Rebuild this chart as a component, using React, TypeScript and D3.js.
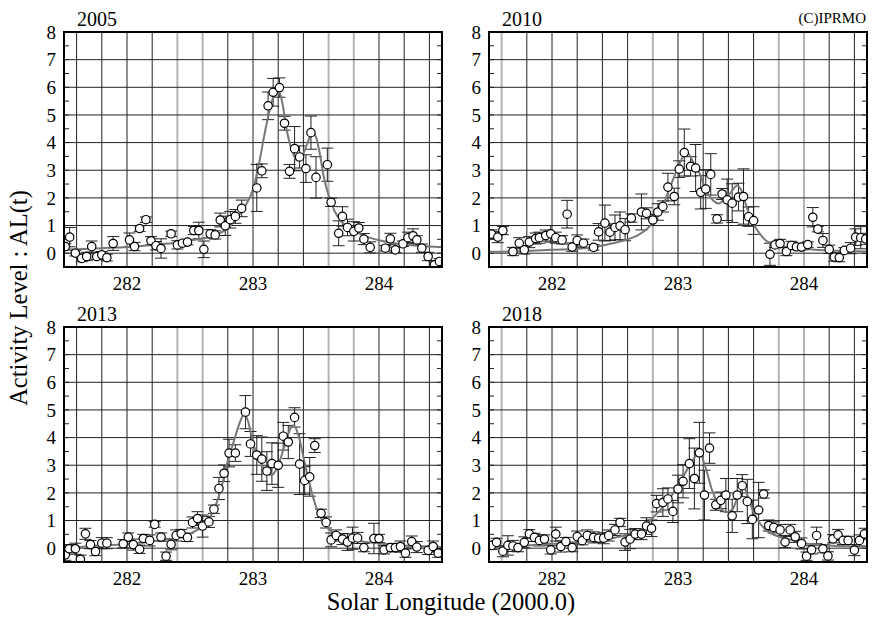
import React from "react";
import * as d3 from "d3";

// ---------- data ----------
const xTicks = [282, 283, 284];
const yTicks = [0, 1, 2, 3, 4, 5, 6, 7, 8];
const years = ["2005", "2010", "2013", "2018"];

const x2005 = [281.51,281.545,281.59,281.64,281.68,281.72,281.76,281.80,281.84,281.89,282.02,282.06,282.10,282.15,282.19,282.23,282.27,282.35,282.40,282.44,282.48,282.53,282.57,282.61,282.66,282.70,282.74,282.78,282.82,282.86,282.91,283.03,283.07,283.12,283.16,283.21,283.25,283.33,283.29,283.37,283.42,283.46,283.50,283.59,283.62,283.68,283.71,283.75,283.80,283.84,283.88,283.93,284.05,284.09,284.13,284.19,284.23,284.27,284.30,284.34,284.39,284.44,284.48];
const y2005 = [0.24,0.58,0,-0.19,-0.12,0.24,-0.12,-0.06,-0.16,0.35,0.48,0.24,0.89,1.21,0.45,0.27,0.17,0.70,0.30,0.36,0.40,0.82,0.82,0.14,0.70,0.66,1.20,0.99,1.21,1.33,1.62,2.36,2.98,5.33,5.82,5.99,4.70,3.78,2.96,3.48,3.06,4.36,2.74,3.20,1.84,0.72,1.33,0.93,0.79,0.91,0.51,0.21,0.18,0.52,0.12,0.34,0.56,0.63,0.48,0.18,-0.12,-0.42,-0.30];
const e2005 = [0.1,0.35,0.1,0.12,0.15,0.2,0.1,0.12,0.12,0.25,0.25,0.15,0.1,0.1,0.15,0.15,0.35,0.1,0.15,0.1,0.1,0.15,0.3,0.3,0.15,0.15,0.25,0.35,0.3,0.25,0.3,0.85,0.25,0.5,0.5,0.35,0.25,0.8,0.25,0.4,0.5,0.6,0.75,0.6,0.15,0.45,0.35,0.3,0.35,0.2,0.2,0.2,0.1,0.2,0.1,0.1,0.2,0.25,0.15,0.15,0.15,0.1,0.1];
const mx2005 = [281.5,281.8,282.0,282.2,282.4,282.6,282.7,282.8,282.9,282.95,283.0,283.05,283.1,283.15,283.2,283.23,283.27,283.31,283.35,283.39,283.43,283.47,283.5,283.53,283.56,283.6,283.65,283.7,283.8,283.9,284.0,284.1,284.2,284.3,284.4,284.5];
const my2005 = [0.12,0.18,0.22,0.3,0.39,0.54,0.66,0.9,1.45,1.8,2.3,3.3,4.5,5.5,5.9,5.5,4.4,3.7,3.35,3.5,3.95,4.35,4.2,3.6,2.8,2.1,1.5,1.15,0.82,0.6,0.47,0.38,0.31,0.27,0.24,0.22];
const grey2005 = [282.4, 282.6, 283.6, 283.8];

const x2010 = [281.52,281.57,281.61,281.69,281.74,281.78,281.82,281.87,281.90,281.95,281.99,282.03,282.08,282.12,282.16,282.20,282.25,282.33,282.37,282.42,282.46,282.50,282.54,282.58,282.63,282.71,282.75,282.80,282.84,282.88,282.92,282.97,283.01,283.05,283.10,283.14,283.18,283.22,283.26,283.31,283.35,283.39,283.43,283.48,283.52,283.56,283.60,283.73,283.77,283.81,283.86,283.90,283.94,283.98,284.03,284.07,284.11,284.15,284.20,284.24,284.28,284.32,284.37,284.41,284.45,284.49];
const y2010 = [0.69,0.58,0.82,0.06,0.36,0.12,0.40,0.53,0.56,0.64,0.70,0.56,0.48,1.41,0.22,0.46,0.36,0.21,0.77,1.09,0.76,0.93,0.99,0.85,1.27,1.49,1.44,1.20,1.49,1.69,2.39,2.05,3.04,3.64,3.14,3.08,2.20,2.32,2.85,1.24,2.14,1.93,1.81,2.03,2.05,1.32,1.18,-0.04,0.30,0.35,0.06,0.28,0.23,0.22,0.31,1.30,0.87,0.46,0.14,-0.14,-0.16,0.10,0.18,0.58,0.56,0.52];
const e2010 = [0.15,0.2,0.15,0.15,0.2,0.15,0.2,0.2,0.2,0.2,0.3,0.2,0.15,0.5,0.15,0.2,0.15,0.1,0.3,0.65,0.3,0.45,0.5,0.4,0.15,0.65,0.2,0.2,0.3,0.2,0.5,0.3,0.3,0.85,0.35,0.85,0.6,0.7,0.75,0.15,0.2,0.75,0.7,0.5,1.0,0.35,0.5,0.4,0.1,0.15,0.15,0.15,0.1,0.1,0.1,0.35,0.1,0.25,0.15,0.15,0.15,0.1,0.2,0.3,0.4,0.2];
const mx2010 = [281.5,281.8,282.0,282.3,282.5,282.6,282.7,282.8,282.87,282.93,283.0,283.05,283.08,283.12,283.17,283.22,283.27,283.32,283.37,283.42,283.47,283.5,283.55,283.6,283.65,283.7,283.8,283.9,284.0,284.2,284.5];
const my2010 = [0.05,0.08,0.12,0.2,0.38,0.5,0.7,1.1,1.6,2.3,3.1,3.55,3.6,3.3,2.9,2.3,1.95,1.8,1.95,2.2,2.45,2.3,1.6,1.05,0.7,0.45,0.27,0.2,0.15,0.1,0.06];
const grey2010 = [281.6, 282.8, 283.8, 284.0];

const x2013 = [281.51,281.54,281.59,281.63,281.67,281.71,281.75,281.80,281.84,281.97,282.01,282.05,282.10,282.13,282.18,282.22,282.27,282.31,282.35,282.39,282.43,282.48,282.52,282.56,282.60,282.65,282.69,282.73,282.77,282.81,282.86,282.94,282.98,283.03,283.07,283.11,283.15,283.20,283.24,283.28,283.33,283.37,283.41,283.45,283.49,283.54,283.58,283.62,283.66,283.71,283.75,283.79,283.83,283.88,283.96,284.00,284.04,284.09,284.13,284.17,284.21,284.26,284.30,284.39,284.43,284.47];
const y2013 = [-0.24,-0.02,-0.02,-0.40,0.52,0.13,-0.12,0.18,0.18,0.16,0.40,0.13,-0.04,0.35,0.28,0.86,0.40,-0.29,0.14,0.46,0.53,0.39,0.93,1.07,0.80,0.95,1.41,2.16,2.71,3.44,3.44,4.92,3.77,3.37,3.22,2.79,3.06,3.00,4.05,3.84,4.73,3.04,2.45,2.58,3.71,1.26,0.93,0.30,0.46,0.33,0.22,0.36,0.37,0.02,0.35,0.35,-0.06,0.02,0.02,0.06,-0.18,0.24,0.04,-0.08,0.06,-0.18];
const e2013 = [0.2,0.15,0.2,0.15,0.2,0.15,0.15,0.2,0.2,0.15,0.15,0.2,0.15,0.15,0.2,0.1,0.15,0.15,0.2,0.2,0.15,0.15,0.2,0.25,0.4,0.2,0.15,0.4,0.3,0.5,0.3,0.6,0.45,0.7,0.8,0.7,0.75,0.8,0.5,0.6,0.35,1.1,0.5,0.7,0.25,0.15,0.2,0.25,0.2,0.2,0.3,0.4,0.2,0.15,0.55,0.15,0.15,0.15,0.15,0.2,0.15,0.2,0.2,0.15,0.2,0.15];
const mx2013 = [281.5,281.7,282.0,282.2,282.4,282.5,282.6,282.65,282.7,282.75,282.8,282.85,282.9,282.93,282.96,283.0,283.05,283.1,283.15,283.2,283.25,283.3,283.32,283.36,283.4,283.45,283.5,283.55,283.6,283.7,283.8,283.9,284.0,284.2,284.5];
const my2013 = [0.0,0.07,0.15,0.25,0.38,0.52,0.8,1.05,1.5,2.2,3.15,3.9,4.6,4.85,4.6,3.8,3.2,2.8,2.65,3.0,3.7,4.35,4.45,4.1,3.3,2.3,1.5,1.0,0.7,0.42,0.3,0.22,0.17,0.1,0.04];
const grey2013 = [282.4, 282.6, 283.6, 283.8];

const x2018 = [281.52,281.56,281.61,281.65,281.69,281.73,281.78,281.82,281.86,281.90,281.94,281.99,282.03,282.07,282.11,282.16,282.20,282.24,282.28,282.33,282.37,282.41,282.45,282.50,282.54,282.58,282.62,282.66,282.71,282.75,282.79,282.83,282.88,282.92,282.96,283.00,283.04,283.09,283.13,283.17,283.21,283.25,283.30,283.34,283.38,283.43,283.47,283.51,283.55,283.59,283.64,283.68,283.72,283.76,283.81,283.85,283.89,283.93,283.98,284.02,284.06,284.10,284.15,284.19,284.23,284.27,284.31,284.35,284.40,284.44,284.48];
const y2018 = [0.10,0.21,-0.11,0.10,0.08,0.02,0.21,0.52,0.39,0.28,0.33,-0.06,0.51,0.06,0.24,0.02,0.42,0.27,0.46,0.39,0.36,0.36,0.46,0.66,0.93,0.22,0.33,0.51,0.51,0.80,0.72,1.61,1.65,1.78,1.33,2.14,2.42,3.06,2.52,3.45,1.92,3.62,1.57,1.73,1.92,1.17,1.92,2.26,1.69,1.04,1.38,1.96,0.82,0.75,0.66,0.22,0.66,0.41,0.17,-0.29,-0.06,0.46,-0.02,-0.28,0.34,0.48,0.28,0.28,-0.07,0.28,0.52];
const e2018 = [0.15,0.15,0.2,0.35,0.2,0.15,0.2,0.15,0.15,0.2,0.15,0.15,0.25,0.2,0.15,0.15,0.2,0.15,0.2,0.2,0.15,0.2,0.2,0.2,0.15,0.3,0.35,0.2,0.2,0.3,0.3,0.3,0.5,0.4,0.4,0.5,0.6,0.9,1.1,1.1,0.9,0.55,0.2,0.3,0.6,0.6,0.6,0.4,0.8,0.7,1.0,0.15,0.2,0.2,0.2,0.2,0.2,0.2,0.2,0.15,0.15,0.3,0.15,0.15,0.15,0.2,0.15,0.15,0.2,0.2,0.2];
const mx2018 = [281.5,281.8,282.0,282.3,282.5,282.7,282.8,282.9,283.0,283.1,283.17,283.22,283.27,283.32,283.38,283.43,283.48,283.52,283.56,283.6,283.65,283.7,283.8,283.9,284.0,284.2,284.5];
const my2018 = [0.0,0.1,0.15,0.25,0.38,0.65,1.1,1.6,2.25,3.05,3.45,2.9,2.1,1.6,1.3,1.4,1.9,2.2,1.8,1.3,0.9,0.65,0.42,0.3,0.18,0.1,0.05];
const grey2018 = [281.6, 282.8, 283.8, 284.0];

// ---------- layout ----------
const W = 879, H = 628;
const PW = 378, PH = 235;
const cols = [64, 489];
const rows = [32, 327];
const FONT = "Liberation Serif";

const panels = [
  { title: years[0], xs: x2005, ys: y2005, es: e2005, mx: mx2005, my: my2005, grey: grey2005, left: cols[0], top: rows[0] },
  { title: years[1], xs: x2010, ys: y2010, es: e2010, mx: mx2010, my: my2010, grey: grey2010, left: cols[1], top: rows[0] },
  { title: years[2], xs: x2013, ys: y2013, es: e2013, mx: mx2013, my: my2013, grey: grey2013, left: cols[0], top: rows[1] },
  { title: years[3], xs: x2018, ys: y2018, es: e2018, mx: mx2018, my: my2018, grey: grey2018, left: cols[1], top: rows[1] },
];

const gridX = d3.range(0, 15).map((i) => +(281.6 + i * 0.2).toFixed(1));
const minorY = d3.range(0, 17).map((i) => -0.5 + i * 0.5);

function Panel({ p, idx }: { p: any; idx: number }) {
  const x = d3.scaleLinear().domain([281.5, 284.5]).range([0, PW]);
  const y = d3.scaleLinear().domain([-0.5, 8]).range([PH, 0]);
  const line = d3
    .line<number>()
    .x((_, i) => x(p.mx[i]))
    .y((d) => y(d))
    .curve(d3.curveMonotoneX);
  const clipId = `clip${idx}`;
  const greySet = new Set(p.grey.map((g: number) => g.toFixed(1)));
  return (
    <g transform={`translate(${p.left},${p.top})`}>
      <defs>
        <clipPath id={clipId}>
          <rect x={0} y={0} width={PW} height={PH} />
        </clipPath>
      </defs>
      <text x={13} y={-6} fontSize={20} style={{ fontFamily: FONT }} fill="#000">
        {p.title}
      </text>
      <g clipPath={`url(#${clipId})`}>
        {gridX
          .filter((g) => !greySet.has(g.toFixed(1)))
          .map((g) => (
            <line key={"gx" + g} x1={x(g)} x2={x(g)} y1={0} y2={PH} stroke="#222" strokeWidth={1} />
          ))}
        {p.grey.map((g: number) => (
          <line key={"gg" + g} x1={x(g)} x2={x(g)} y1={0} y2={PH} stroke="#b3b3b3" strokeWidth={2} />
        ))}
        {yTicks.slice(0, 8).map((t) => (
          <line key={"gy" + t} x1={0} x2={PW} y1={y(t)} y2={y(t)} stroke="#222" strokeWidth={1} />
        ))}
        {minorY.map((t) => (
          <g key={"my" + t}>
            <line x1={0} x2={5} y1={y(t)} y2={y(t)} stroke="#222" strokeWidth={1} />
            <line x1={PW - 5} x2={PW} y1={y(t)} y2={y(t)} stroke="#222" strokeWidth={1} />
          </g>
        ))}
        {p.xs.map((xv: number, i: number) => {
          const cx = x(xv);
          const hi = y(p.ys[i] + p.es[i]);
          const lo = y(p.ys[i] - p.es[i]);
          return (
            <g key={"e" + i} stroke="#222" strokeWidth={1}>
              <line x1={cx} x2={cx} y1={hi} y2={lo} />
              <line x1={cx - 6} x2={cx + 6} y1={hi} y2={hi} />
              <line x1={cx - 6} x2={cx + 6} y1={lo} y2={lo} />
            </g>
          );
        })}
        <path d={line(p.my) || ""} fill="none" stroke="#777" strokeWidth={2} />
        {p.xs.map((xv: number, i: number) => (
          <circle key={"c" + i} cx={x(xv)} cy={y(p.ys[i])} r={4.2} fill="#fff" stroke="#000" strokeWidth={1.2} />
        ))}
      </g>
      <rect x={0} y={0} width={PW} height={PH} fill="none" stroke="#000" strokeWidth={2} />
      {yTicks.map((t) => (
        <text key={"yl" + t} x={-8} y={y(t)} dy="0.35em" textAnchor="end" fontSize={19} style={{ fontFamily: FONT }} fill="#000">
          {t}
        </text>
      ))}
      {xTicks.map((t) => (
        <text key={"xl" + t} x={x(t)} y={PH + 23} textAnchor="middle" fontSize={19} style={{ fontFamily: FONT }} fill="#000">
          {t}
        </text>
      ))}
    </g>
  );
}

export default function App() {
  return (
    <svg
      width={W}
      height={H}
      viewBox={`0 0 ${W} ${H}`}
      style={{ position: "absolute", left: 0, top: 0, background: "#fff", fontFamily: FONT }}
    >
      <rect x={0} y={0} width={W} height={H} fill="#fff" />
      {panels.map((p, i) => (
        <Panel key={p.title} p={p} idx={i} />
      ))}
      <text x={866} y={23} textAnchor="end" fontSize={15} style={{ fontFamily: FONT }} fill="#000">
        (C)IPRMO
      </text>
      <text x={451} y={610} textAnchor="middle" fontSize={24.5} style={{ fontFamily: FONT }} fill="#000">
        Solar Longitude (2000.0)
      </text>
      <text
        transform="translate(27,298) rotate(-90)"
        textAnchor="middle"
        fontSize={24.5}
        style={{ fontFamily: FONT }}
        fill="#000"
      >
        Activity Level : AL(t)
      </text>
    </svg>
  );
}
